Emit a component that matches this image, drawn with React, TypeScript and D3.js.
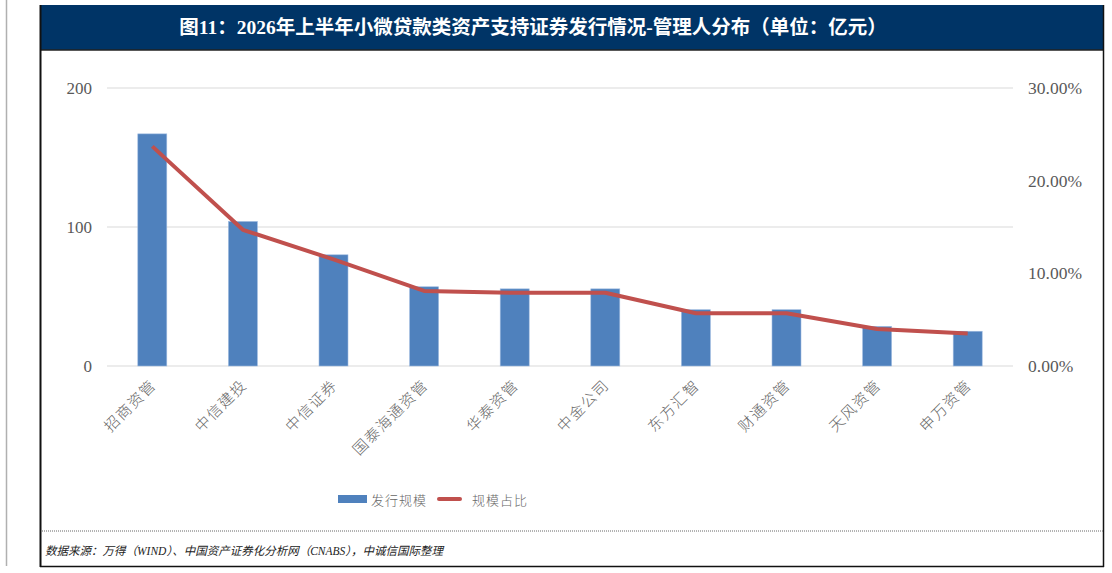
import React, { useEffect, useRef } from "react";
import * as d3 from "d3";

const managers = [
  "招商资管",
  "中信建投",
  "中信证券",
  "国泰海通资管",
  "华泰资管",
  "中金公司",
  "东方汇智",
  "财通资管",
  "天风资管",
  "申万资管",
];
const issueSize = [167, 104, 80, 57, 55.5, 55.5, 40.5, 40.5, 28.5, 25];
const sharePct = [23.7, 14.7, 11.5, 8.1, 7.9, 7.9, 5.7, 5.7, 4.0, 3.5];
const leftTicks = [0, 100, 200];
const rightTicks = [0, 10, 20, 30];

const W = 1112;
const H = 573;

const App: React.FC = () => {
  const ref = useRef<SVGSVGElement>(null);

  useEffect(() => {
    if (!ref.current) return;
    const svg = d3.select(ref.current);
    svg.selectAll("*").remove();

    const serif = "'Liberation Serif', 'Noto Sans CJK SC', serif";
    const cjk = "'Noto Sans CJK SC', sans-serif";
    const grey = "#595959";

    // page edge line
    svg.append("line")
      .attr("x1", 6.5).attr("x2", 6.5).attr("y1", 0).attr("y2", 566)
      .attr("stroke", "#b0b0b0").attr("stroke-width", 1.5);

    // title bar
    svg.append("rect")
      .attr("x", 40).attr("y", 5).attr("width", 1064).attr("height", 45)
      .attr("fill", "#003466");
    svg.append("text")
      .attr("x", 533).attr("y", 34)
      .attr("text-anchor", "middle")
      .attr("fill", "#fff")
      .style("font-family", serif)
      .style("font-weight", "bold")
      .style("font-size", "19.5px")
      .text("图11：2026年上半年小微贷款类资产支持证券发行情况-管理人分布（单位：亿元）");

    // frame
    svg.append("line").attr("x1", 40).attr("x2", 1104).attr("y1", 50).attr("y2", 50)
      .attr("stroke", "#222").attr("stroke-width", 1.5);
    svg.append("line").attr("x1", 40.5).attr("x2", 40.5).attr("y1", 5).attr("y2", 567)
      .attr("stroke", "#111").attr("stroke-width", 2);
    svg.append("line").attr("x1", 1103.5).attr("x2", 1103.5).attr("y1", 5).attr("y2", 567)
      .attr("stroke", "#111").attr("stroke-width", 1.5);
    svg.append("line").attr("x1", 40).attr("x2", 1104).attr("y1", 566.5).attr("y2", 566.5)
      .attr("stroke", "#111").attr("stroke-width", 1.5);
    svg.append("line").attr("x1", 42).attr("x2", 1103).attr("y1", 531).attr("y2", 531)
      .attr("stroke", "#666").attr("stroke-width", 1).attr("stroke-dasharray", "1,1");

    // scales
    const x = d3.scaleBand().domain(managers).range([107, 1013]).padding(0);
    const y = d3.scaleLinear().domain([0, 200]).range([366, 88]);
    const y2 = d3.scaleLinear().domain([0, 30]).range([366, 88]);
    const barW = x.bandwidth() * 0.32;

    // gridlines
    svg.append("g").selectAll("line")
      .data(leftTicks).enter().append("line")
      .attr("x1", 107).attr("x2", 1013)
      .attr("y1", (d) => y(d)).attr("y2", (d) => y(d))
      .attr("stroke", "#d9d9d9").attr("stroke-width", 1.2);

    // left axis labels
    svg.append("g").selectAll("text")
      .data(leftTicks).enter().append("text")
      .attr("x", 92).attr("y", (d) => y(d) + 6)
      .attr("text-anchor", "end")
      .attr("fill", grey)
      .style("font-family", serif).style("font-size", "17px")
      .text((d) => d);

    // right axis labels
    svg.append("g").selectAll("text")
      .data(rightTicks).enter().append("text")
      .attr("x", 1028).attr("y", (d) => y2(d) + 6)
      .attr("text-anchor", "start")
      .attr("fill", grey)
      .style("font-family", serif).style("font-size", "17.5px")
      .text((d) => `${d.toFixed(2)}%`);

    // bars
    svg.append("g").selectAll("rect")
      .data(issueSize).enter().append("rect")
      .attr("x", (d, i) => (x(managers[i]) || 0) + x.bandwidth() / 2 - barW / 2)
      .attr("y", (d) => y(d))
      .attr("width", barW)
      .attr("height", (d) => 366 - y(d))
      .attr("fill", "#4f81bd")
      .attr("stroke", "#9fbbe0").attr("stroke-width", 0.6);

    // line
    const line = d3.line<number>()
      .x((d, i) => (x(managers[i]) || 0) + x.bandwidth() / 2)
      .y((d) => y2(d));
    svg.append("path")
      .datum(sharePct)
      .attr("d", line)
      .attr("fill", "none")
      .attr("stroke", "#c0504d")
      .attr("stroke-width", 4)
      .attr("stroke-linejoin", "round");

    // category labels
    svg.append("g").selectAll("text")
      .data(managers).enter().append("text")
      .attr("transform", (d) => `translate(${(x(d) || 0) + x.bandwidth() / 2 + 5},${386}) rotate(-45)`)
      .attr("text-anchor", "end")
      .attr("fill", "#666")
      .style("font-family", cjk).style("font-size", "15px")
      .style("font-weight", 300)
      .style("letter-spacing", "1.5px")
      .text((d) => d);

    // legend
    const lg = svg.append("g");
    lg.append("rect").attr("x", 338).attr("y", 495).attr("width", 29).attr("height", 8)
      .attr("fill", "#4f81bd");
    lg.append("text").attr("x", 371).attr("y", 505)
      .attr("fill", "#666").style("font-family", cjk).style("font-size", "13px")
      .style("font-weight", 300).style("letter-spacing", "1px")
      .text("发行规模");
    lg.append("line").attr("x1", 439).attr("x2", 460).attr("y1", 499).attr("y2", 499)
      .attr("stroke", "#c0504d").attr("stroke-width", 4).attr("stroke-linecap", "round");
    lg.append("text").attr("x", 472).attr("y", 505)
      .attr("fill", "#666").style("font-family", cjk).style("font-size", "13px")
      .style("font-weight", 300).style("letter-spacing", "1px")
      .text("规模占比");

    // source
    svg.append("text")
      .attr("x", 45).attr("y", 555)
      .attr("fill", "#222")
      .style("font-family", serif).style("font-style", "italic").style("font-size", "11.5px")
      .text("数据来源：万得（WIND）、中国资产证券化分析网（CNABS），中诚信国际整理");
  }, []);

  return (
    <svg
      ref={ref}
      width={W}
      height={H}
      style={{ position: "absolute", left: 0, top: 0, background: "#fff" }}
    />
  );
};

export default App;
